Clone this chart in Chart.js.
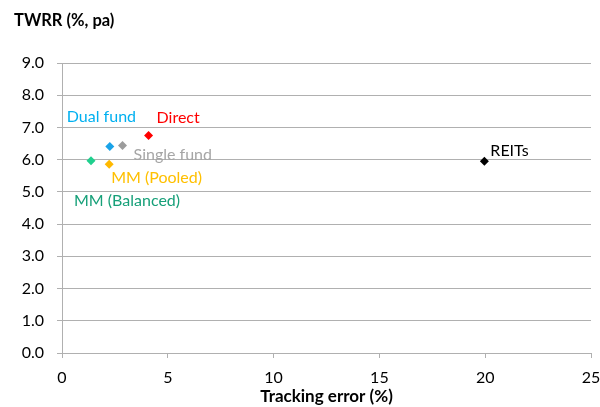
<!DOCTYPE html>
<html>
<head>
<meta charset="utf-8">
<script src="https://cdn.jsdelivr.net/npm/chart.js@4/dist/chart.umd.min.js"></script>
<style>
  html, body { margin: 0; padding: 0; background: #fff; }
  #wrap { width: 600px; height: 407px; }
</style>
</head>
<body>
<div id="wrap"><canvas id="chart"></canvas></div>
<script>
// data
const names = ["Dual fund", "Single fund", "Direct", "MM (Balanced)", "MM (Pooled)", "REITs"];
const trackingError = [2.26, 2.86, 4.09, 1.37, 2.23, 19.96];
const twrr = [6.41, 6.44, 6.75, 5.97, 5.86, 5.95];
const yTicks = [0, 1, 2, 3, 4, 5, 6, 7, 8, 9];
const xTicks = [0, 5, 10, 15, 20, 25];

// styling
const markerColors = ["#1AA3E8", "#9C9C9C", "#FF0000", "#1FD08E", "#FFB900", "#000000"];
const textColors = ["#00B0F0", "#A6A6A6", "#FF0000", "#17A079", "#FFC000", "#000000"];
// label offset from the marker, px (left, baseline)
const labelOffsets = [[-43, -24], [11, 15], [8, -13], [-17, 45], [2, 19], [6, -5]];

const FONT = "Lato, 'Open Sans', sans-serif";
const gridCol = "#B0B0B0";

const pointLabels = {
  id: "pointLabels",
  afterDatasetsDraw(chart) {
    const ctx = chart.ctx;
    ctx.save();
    ctx.font = "16px " + FONT;
    ctx.textAlign = "left";
    ctx.textBaseline = "alphabetic";
    chart.data.datasets.forEach((ds, i) => {
      const pt = chart.getDatasetMeta(i).data[0];
      ctx.fillStyle = textColors[i];
      ctx.fillText(ds.label, pt.x + labelOffsets[i][0], pt.y + labelOffsets[i][1]);
    });
    ctx.restore();
  }
};

const yTitle = {
  id: "yTitle",
  afterDraw(chart) {
    const ctx = chart.ctx;
    ctx.save();
    ctx.font = "bold 16.5px " + FONT;
    ctx.fillStyle = "#000";
    ctx.textAlign = "left";
    ctx.textBaseline = "alphabetic";
    ctx.fillText("TWRR (%, pa)", 14, 26);
    ctx.restore();
  }
};

new Chart(document.getElementById("chart"), {
  type: "scatter",
  data: {
    datasets: names.map((n, i) => ({
      label: n,
      data: [{ x: trackingError[i], y: twrr[i] }],
      pointStyle: "rectRot",
      radius: 4.5,
      hoverRadius: 4.5,
      backgroundColor: markerColors[i],
      borderColor: markerColors[i],
      borderWidth: 0
    }))
  },
  options: {
    responsive: true,
    maintainAspectRatio: false,
    animation: false,
    layout: { padding: { top: 63, right: 9, left: 0, bottom: 0 } },
    plugins: { legend: { display: false }, tooltip: { enabled: false } },
    scales: {
      x: {
        type: "linear",
        min: 0,
        max: 25,
        afterBuildTicks: (s) => { s.ticks = xTicks.map(v => ({ value: v })); },
        afterFit: (s) => { s.height = 54; s.paddingRight = 0; s.paddingLeft = 0; },
        ticks: {
          font: { family: FONT, size: 16 },
          color: "#000",
          padding: 10,
          maxRotation: 0,
          callback: (v) => v
        },
        grid: { drawOnChartArea: false, drawTicks: true, tickLength: 5, color: gridCol },
        border: { color: gridCol, width: 1 },
        title: {
          display: true,
          text: "Tracking error (%)",
          font: { family: FONT, size: 17, weight: "bold" },
          color: "#000",
          padding: { top: 0, bottom: 0 }
        }
      },
      y: {
        type: "linear",
        min: 0,
        max: 9,
        afterBuildTicks: (s) => { s.ticks = yTicks.map(v => ({ value: v })); },
        afterFit: (s) => { s.width = 62; s.paddingTop = 0; s.paddingBottom = 0; },
        ticks: {
          font: { family: FONT, size: 16 },
          color: "#000",
          padding: 13,
          callback: (v) => Number(v).toFixed(1)
        },
        grid: { color: gridCol, tickLength: 5, lineWidth: 1 },
        border: { color: gridCol, width: 1 }
      }
    }
  },
  plugins: [pointLabels, yTitle]
});
</script>
</body>
</html>
